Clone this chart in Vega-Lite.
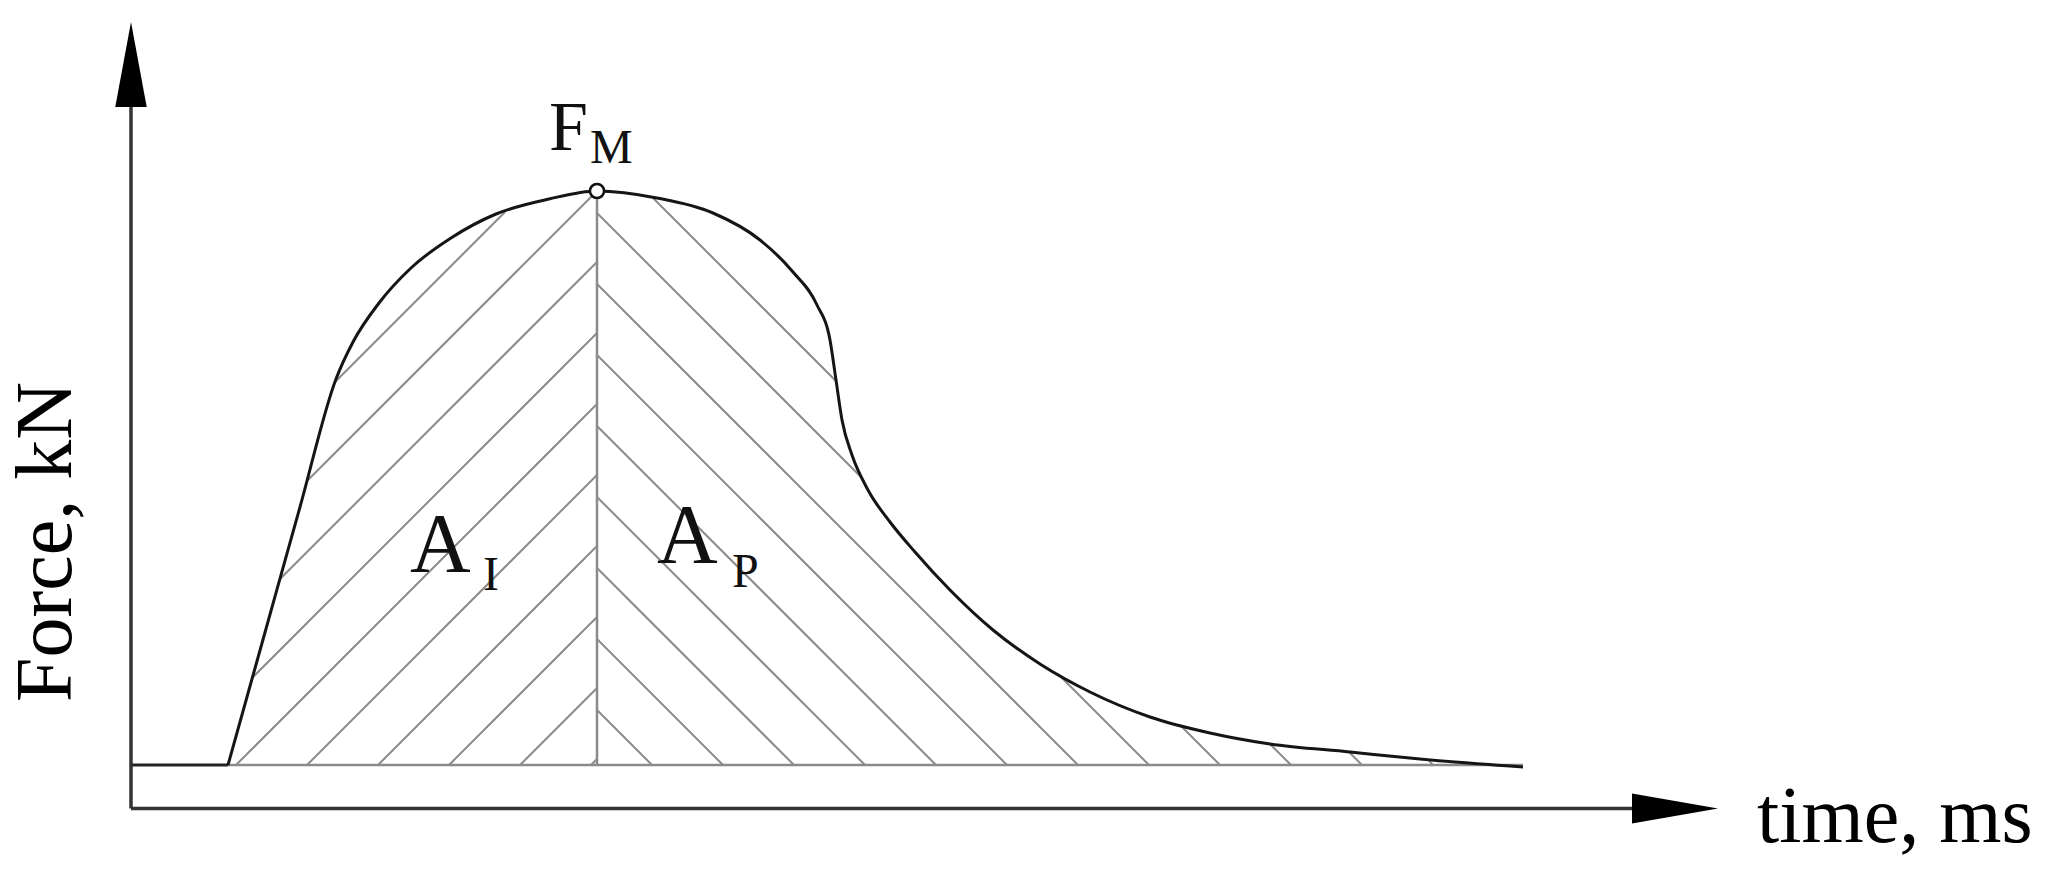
{
  "$schema": "https://vega.github.io/schema/vega-lite/v6.json",
  "width": 2048,
  "height": 884,
  "autosize": {"type": "fit", "contains": "padding"},
  "padding": 0,
  "background": "white",
  "config": {"view": {"stroke": null}},
  "datasets": {
    "curve": [
      {"t": 9.7, "F": 0}, {"t": 13.3, "F": 12.9}, {"t": 16.9, "F": 25.8}, {"t": 20.5, "F": 38.6},
      {"t": 22.2, "F": 42.3}, {"t": 24.8, "F": 46.2}, {"t": 28.0, "F": 49.7}, {"t": 32.0, "F": 52.7},
      {"t": 36.5, "F": 55.1}, {"t": 41.8, "F": 56.6}, {"t": 46.6, "F": 57.4}, {"t": 52.6, "F": 56.7},
      {"t": 58.2, "F": 55.2}, {"t": 62.9, "F": 52.5}, {"t": 66.2, "F": 49.3}, {"t": 68.6, "F": 46.0},
      {"t": 69.9, "F": 42.5}, {"t": 70.5, "F": 38.5}, {"t": 71.1, "F": 34.5}, {"t": 72.1, "F": 31.0},
      {"t": 73.7, "F": 27.5}, {"t": 75.9, "F": 24.3}, {"t": 78.4, "F": 21.3}, {"t": 81.9, "F": 17.5},
      {"t": 86.2, "F": 13.5}, {"t": 90.9, "F": 10.1}, {"t": 95.9, "F": 7.3}, {"t": 101.9, "F": 4.8},
      {"t": 107.9, "F": 3.2}, {"t": 113.9, "F": 2.1}, {"t": 121.9, "F": 1.3}, {"t": 128.9, "F": 0.6},
      {"t": 139.2, "F": -0.2}
    ],
    "hatch": [
      {"t": 10.5, "F": 0, "t2": 46.6, "F2": 36.1},
      {"t": 17.6, "F": 0, "t2": 46.6, "F2": 29.0},
      {"t": 24.7, "F": 0, "t2": 46.6, "F2": 21.9},
      {"t": 31.8, "F": 0, "t2": 46.6, "F2": 14.8},
      {"t": 38.9, "F": 0, "t2": 46.6, "F2": 7.7},
      {"t": 46.0, "F": 0, "t2": 46.6, "F2": 0.6},
      {"t": 12.15, "F": 8.75, "t2": 46.6, "F2": 43.2},
      {"t": 14.9, "F": 18.6, "t2": 46.6, "F2": 50.3},
      {"t": 17.7, "F": 28.5, "t2": 46.6, "F2": 57.4},
      {"t": 20.4, "F": 38.3, "t2": 37.4, "F2": 55.3},
      {"t": 46.6, "F": 5.5, "t2": 52.1, "F2": 0},
      {"t": 46.6, "F": 12.6, "t2": 59.2, "F2": 0},
      {"t": 46.6, "F": 19.7, "t2": 66.3, "F2": 0},
      {"t": 46.6, "F": 26.8, "t2": 73.4, "F2": 0},
      {"t": 46.6, "F": 33.9, "t2": 80.5, "F2": 0},
      {"t": 46.6, "F": 41.0, "t2": 87.6, "F2": 0},
      {"t": 46.6, "F": 48.1, "t2": 94.7, "F2": 0},
      {"t": 46.6, "F": 55.2, "t2": 73.2, "F2": 28.6},
      {"t": 92.7, "F": 9.1, "t2": 101.8, "F2": 0},
      {"t": 52.2, "F": 56.7, "t2": 70.5, "F2": 38.4},
      {"t": 104.9, "F": 4.0, "t2": 108.9, "F2": 0},
      {"t": 113.9, "F": 2.1, "t2": 116.0, "F2": 0},
      {"t": 121.8, "F": 1.3, "t2": 123.1, "F2": 0},
      {"t": 129.7, "F": 0.54, "t2": 130.2, "F2": 0}
    ],
    "guide": [
      {"t": 9.7, "F": 0, "t2": 139.2, "F2": 0},
      {"t": 46.6, "F": 0, "t2": 46.6, "F2": 57.4}
    ],
    "base": [
      {"t": 0, "F": 0, "t2": 9.7, "F2": 0}
    ],
    "axes": [
      {"t": 0, "F": -4.35, "t2": 0, "F2": 68},
      {"t": 0, "F": -4.35, "t2": 157, "F2": -4.35}
    ],
    "arrows": [
      {"dir": "up", "t": 0, "F": 70.05},
      {"dir": "right", "t": 154.4, "F": -4.35}
    ],
    "peak": [{"t": 46.6, "F": 57.4}],
    "labels": [
      {"text": "F", "role": "fm", "t": 41.8, "F": 61.5},
      {"text": "M", "role": "fmsub", "t": 45.9, "F": 60.2},
      {"text": "A", "role": "area", "t": 27.9, "F": 19.3},
      {"text": "I", "role": "areasub", "t": 35.2, "F": 17.5},
      {"text": "A", "role": "area", "t": 52.6, "F": 20.2},
      {"text": "P", "role": "areasub", "t": 60.1, "F": 17.8},
      {"text": "Force, kN", "role": "ytitle", "t": -6.0, "F": 22.3},
      {"text": "time, ms", "role": "xtitle", "t": 162.6, "F": -7.7}
    ]
  },
  "encoding": {
    "x": {"field": "t", "type": "quantitative", "scale": {"domain": [-13.1, 191.7], "nice": false, "zero": false}, "axis": null},
    "y": {"field": "F", "type": "quantitative", "scale": {"domain": [-11.9, 76.5], "nice": false, "zero": false}, "axis": null}
  },
  "layer": [
    {
      "data": {"name": "hatch"},
      "mark": {"type": "rule", "stroke": "#8a8a8a", "strokeWidth": 2},
      "encoding": {"x2": {"field": "t2"}, "y2": {"field": "F2"}}
    },
    {
      "data": {"name": "guide"},
      "mark": {"type": "rule", "stroke": "#8a8a8a", "strokeWidth": 2.5},
      "encoding": {"x2": {"field": "t2"}, "y2": {"field": "F2"}}
    },
    {
      "data": {"name": "base"},
      "mark": {"type": "rule", "stroke": "#222222", "strokeWidth": 3},
      "encoding": {"x2": {"field": "t2"}, "y2": {"field": "F2"}}
    },
    {
      "data": {"name": "axes"},
      "mark": {"type": "rule", "stroke": "#333333", "strokeWidth": 3.5},
      "encoding": {"x2": {"field": "t2"}, "y2": {"field": "F2"}}
    },
    {
      "data": {"name": "curve"},
      "mark": {"type": "line", "stroke": "#151515", "strokeWidth": 3, "interpolate": "monotone"},
      "encoding": {"order": {"field": "t", "type": "quantitative"}}
    },
    {
      "data": {"name": "arrows"},
      "transform": [{"filter": "datum.dir === 'up'"}],
      "mark": {"type": "point", "shape": "M0,-1L0.37,1L-0.37,1Z", "size": 7225, "filled": true, "fill": "#000000", "opacity": 1, "strokeWidth": 0}
    },
    {
      "data": {"name": "arrows"},
      "transform": [{"filter": "datum.dir === 'right'"}],
      "mark": {"type": "point", "shape": "M1,0L-1,0.35L-1,-0.35Z", "size": 7396, "filled": true, "fill": "#000000", "opacity": 1, "strokeWidth": 0}
    },
    {
      "data": {"name": "peak"},
      "mark": {"type": "point", "shape": "circle", "size": 200, "filled": true, "fill": "#ffffff", "stroke": "#111111", "strokeWidth": 2.5, "opacity": 1}
    },
    {
      "data": {"name": "labels"},
      "transform": [{"filter": "datum.role === 'fm'"}],
      "mark": {"type": "text", "font": "Liberation Serif", "fontSize": 70, "align": "left", "baseline": "alphabetic", "color": "#111111"},
      "encoding": {"text": {"field": "text"}}
    },
    {
      "data": {"name": "labels"},
      "transform": [{"filter": "datum.role === 'fmsub'"}],
      "mark": {"type": "text", "font": "Liberation Serif", "fontSize": 48, "align": "left", "baseline": "alphabetic", "color": "#111111"},
      "encoding": {"text": {"field": "text"}}
    },
    {
      "data": {"name": "labels"},
      "transform": [{"filter": "datum.role === 'area'"}],
      "mark": {"type": "text", "font": "Liberation Serif", "fontSize": 84, "align": "left", "baseline": "alphabetic", "color": "#111111"},
      "encoding": {"text": {"field": "text"}}
    },
    {
      "data": {"name": "labels"},
      "transform": [{"filter": "datum.role === 'areasub'"}],
      "mark": {"type": "text", "font": "Liberation Serif", "fontSize": 48, "align": "left", "baseline": "alphabetic", "color": "#111111"},
      "encoding": {"text": {"field": "text"}}
    },
    {
      "data": {"name": "labels"},
      "transform": [{"filter": "datum.role === 'ytitle'"}],
      "mark": {"type": "text", "font": "Liberation Serif", "fontSize": 80, "align": "center", "baseline": "alphabetic", "angle": 270, "color": "#000000"},
      "encoding": {"text": {"field": "text"}}
    },
    {
      "data": {"name": "labels"},
      "transform": [{"filter": "datum.role === 'xtitle'"}],
      "mark": {"type": "text", "font": "Liberation Serif", "fontSize": 80, "align": "left", "baseline": "alphabetic", "color": "#000000"},
      "encoding": {"text": {"field": "text"}}
    }
  ]
}
